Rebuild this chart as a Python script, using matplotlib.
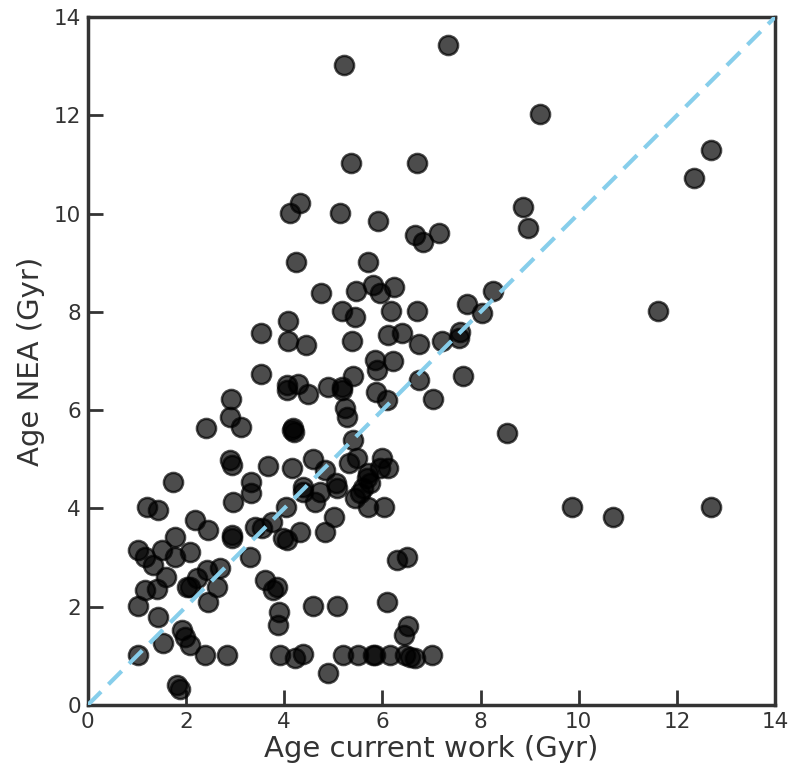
import matplotlib
matplotlib.use("Agg")
import matplotlib.pyplot as plt

# ages from this work (x) and from NEA (y), in Gyr
age_current = [
    1.02, 1.16, 1.51, 1.77, 2.08, 1.33, 1.59, 2.42, 2.69, 2.22,
    2.02, 2.08, 2.63, 3.30, 3.61, 3.85, 3.77, 1.16, 1.41, 2.45,
    1.02, 3.89, 3.87, 4.59, 1.43, 1.92, 1.98, 2.08, 1.53, 1.02,
    2.38, 2.83, 3.92, 4.22, 4.38, 1.81, 1.87, 2.89, 2.93, 3.67,
    4.16, 4.59, 1.73, 3.32, 3.32, 4.38, 4.38, 2.96, 1.20, 1.43,
    4.03, 2.18, 2.45, 2.93, 2.93, 3.40, 3.55, 3.75, 3.97, 4.06,
    4.32, 1.77,
    4.83, 5.32, 5.48, 5.99, 6.11, 5.95, 5.71, 5.69, 5.75, 5.60,
    4.73, 5.05, 5.07, 5.44, 5.54, 4.63, 5.71, 6.03, 5.01, 4.83,
    6.30, 6.50, 5.07, 6.09, 6.52, 6.44, 5.20, 5.50, 5.81, 5.85,
    6.15, 6.46, 6.56, 6.66, 7.01, 4.89, 5.40, 4.18, 4.20, 4.16,
    4.32, 4.12, 4.24, 4.08, 3.53, 4.08, 4.44, 3.53, 4.06, 4.06,
    4.28, 4.48, 2.91, 2.89, 3.12, 2.40,
    5.14, 5.91, 6.66, 6.83, 7.15, 8.87, 8.97, 5.71, 4.75, 5.46,
    5.81, 5.95, 6.24, 7.72, 8.25, 8.03, 5.18, 5.44, 6.17, 6.70,
    5.38, 6.11, 6.40, 6.75, 7.21, 7.58, 7.56, 5.85, 5.89, 6.22,
    5.40, 4.89, 5.18, 5.18, 5.87, 6.09, 6.75, 7.64, 7.03, 5.24,
    5.28, 8.54,
    5.22, 7.34, 9.21, 5.36, 6.70, 12.70, 12.35,
    11.62, 9.86, 10.70, 12.70,
]
age_nea = [
    3.15, 3.01, 3.15, 3.01, 3.11, 2.85, 2.60, 2.75, 2.79, 2.58,
    2.40, 2.40, 2.40, 3.01, 2.54, 2.40, 2.34, 2.34, 2.36, 2.10,
    2.01, 1.89, 1.63, 2.01, 1.79, 1.53, 1.38, 1.22, 1.26, 1.02,
    1.02, 1.02, 1.02, 0.96, 1.04, 0.41, 0.33, 4.99, 4.88, 4.86,
    4.82, 5.00, 4.54, 4.54, 4.31, 4.44, 4.33, 4.13, 4.03, 3.97,
    4.03, 3.76, 3.56, 3.46, 3.40, 3.62, 3.60, 3.72, 3.40, 3.36,
    3.52, 3.42,
    4.78, 4.93, 5.03, 5.03, 4.82, 4.82, 4.72, 4.62, 4.52, 4.42,
    4.33, 4.52, 4.42, 4.21, 4.31, 4.13, 4.03, 4.03, 3.82, 3.52,
    2.95, 3.01, 2.01, 2.10, 1.61, 1.42, 1.02, 1.02, 1.02, 1.02,
    1.02, 1.02, 0.98, 0.96, 1.02, 0.65, 5.39, 5.64, 5.56, 5.60,
    10.21, 10.01, 9.01, 7.81, 7.57, 7.41, 7.33, 6.74, 6.51, 6.41,
    6.53, 6.33, 6.23, 5.86, 5.66, 5.64,
    10.01, 9.85, 9.56, 9.42, 9.61, 10.13, 9.71, 9.01, 8.38, 8.42,
    8.55, 8.38, 8.51, 8.16, 8.42, 7.98, 8.02, 7.90, 8.02, 8.02,
    7.41, 7.53, 7.57, 7.35, 7.41, 7.59, 7.47, 7.02, 6.82, 7.00,
    6.70, 6.47, 6.47, 6.41, 6.37, 6.21, 6.61, 6.70, 6.23, 6.04,
    5.86, 5.54,
    13.02, 13.43, 12.03, 11.03, 11.03, 11.29, 10.72,
    8.02, 4.03, 3.83, 4.03,
]
one_to_one = [0, 14]
ticks = [0, 2, 4, 6, 8, 10, 12, 14]

dark = "#333333"
plt.rcParams["font.family"] = "DejaVu Sans"

fig = plt.figure(figsize=(7.91, 7.73), dpi=100)
ax = fig.add_axes([0.111, 0.088, 0.869, 0.890])

ax.scatter(age_current, age_nea, s=190, c="black", alpha=0.7,
           edgecolors="black", linewidths=1.8, zorder=2)
ax.plot(one_to_one, one_to_one, ls=(0, (4.5, 2.5)), color="skyblue", lw=3, zorder=3)

ax.set_xlim(0, 14)
ax.set_ylim(0, 14)
ax.set_xticks(ticks)
ax.set_yticks(ticks)
ax.tick_params(direction="in", length=11, width=2, colors=dark,
               labelsize=15.5, pad=5, top=False, right=False)
for sp in ax.spines.values():
    sp.set_linewidth(2.5)
    sp.set_color(dark)

ax.set_xlabel("Age current work (Gyr)", fontsize=21, color=dark, labelpad=2)
ax.set_ylabel("Age NEA (Gyr)", fontsize=21, color=dark, labelpad=6)

fig.savefig("out.png", dpi=100)
